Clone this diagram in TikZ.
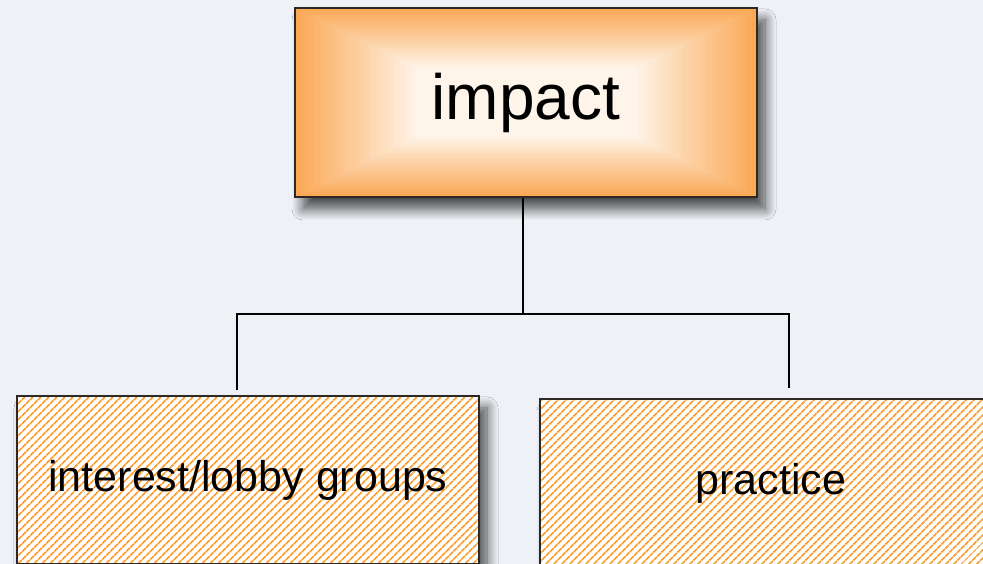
\documentclass[tikz,border=0pt]{standalone}
\usepackage{fontspec}
\setmainfont{Liberation Sans}
\usepackage{tikz}
\usetikzlibrary{positioning,calc,patterns.meta,shadows.blur}
\definecolor{bgblue}{RGB}{238,242,246}
\definecolor{boxorange}{RGB}{250,168,84}
\definecolor{hatchorange}{RGB}{249,162,60}
\definecolor{edgegray}{RGB}{45,40,35}
\tikzset{
  % Base styles
  diagram base/.style={
    x=1pt, y=1pt,
    every node/.style={font=\fontsize{43}{48}\selectfont},
  },
  soft shadow/.style={blur shadow={shadow xshift=8pt, shadow yshift=-12pt,
    shadow blur radius=11pt, shadow blur steps=12, shadow opacity=70}},
  % Top box with bevel shading
  top box/.style={rectangle, draw=edgegray, line width=1.4pt, fill=boxorange,
    minimum width=462pt, minimum height=189pt, inner sep=0pt,
    font=\fontsize{64}{72}\selectfont, soft shadow,
    path picture={
      \foreach \i [evaluate=\i as \pct using int(100-3.6*\i)] in {1,...,24}
        \fill[boxorange!\pct!white]
          ($(path picture bounding box.south west)+(\i*5pt,\i*2.5pt)$) rectangle
          ($(path picture bounding box.north east)-(\i*5pt,\i*2.5pt)$);
    }},
  % Hatched boxes
  hatch box/.style={rectangle, draw=edgegray, line width=1.4pt,
    minimum width=462pt, minimum height=168pt, inner sep=0pt, soft shadow,
    preaction={fill=white},
    pattern={Lines[angle=45, distance=5.4pt, line width=1.9pt]}, pattern color=hatchorange},
  % Connectors
  link/.style={line width=1.6pt, black},
}

\begin{document}
\begin{tikzpicture}[diagram base]
% Background
\fill[bgblue] (0,0) rectangle (983,564);
\useasboundingbox (0,0) rectangle (983,564);

% Top node
\node[top box] (imp) at (526,461.5) {impact};

% Bottom nodes
\node[hatch box] (lobby) at (248,84) {interest/lobby groups};
\node[hatch box] (prac) at (771,81) {practice};

% Fork points
\coordinate (split) at (523,250);
\coordinate (lobbyIn) at (237,174);
\coordinate (pracIn) at (789,176);

% Connectors
\draw[link] (imp.south -| split) -- (split);
\draw[link] (lobbyIn) |- (split) -| (pracIn);
\end{tikzpicture}
\end{document}
